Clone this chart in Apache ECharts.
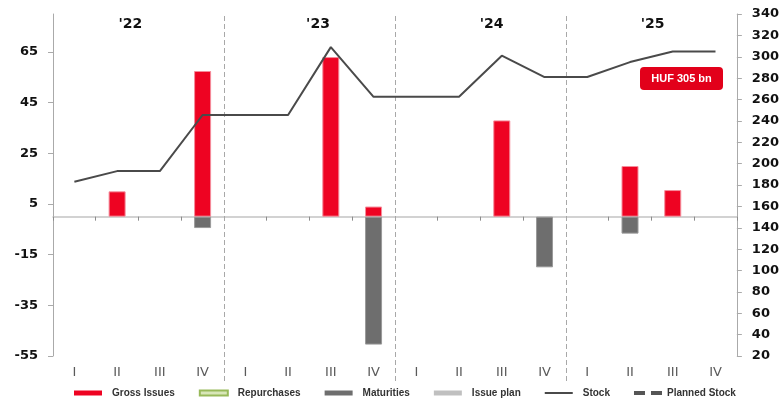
<!DOCTYPE html>
<html>
<head>
<meta charset="utf-8">
<script src="https://cdn.jsdelivr.net/npm/echarts@6/dist/echarts.min.js"></script>
<style>
html,body{margin:0;padding:0;background:#fff;}
#chart{width:782px;height:402px;}
</style>
</head>
<body>
<div id="chart"></div>
<script>
const quarters = ['I','II','III','IV','I','II','III','IV','I','II','III','IV','I','II','III','IV'];
const years = ["'22","'23","'24","'25"];
const grossIssues = ['-',10,'-',57.5, '-','-',63,4, '-','-',38,'-', '-',20,10.5,'-'];
const repurchases = ['-','-','-','-', '-','-','-','-', '-','-','-','-', '-','-','-','-'];
const maturities = ['-','-','-',-4.5, '-','-','-',-50.5, '-','-','-',-20, '-',-6.7,'-','-'];
const issuePlan = ['-','-','-','-', '-','-','-','-', '-','-','-','-', '-','-','-','-'];
const stock = [183,193,193,245.5, 245.5,245.5,309,262.5, 262.5,262.5,301,281, 281,295,305,305];
const plannedStock = [];
const leftTickValues = [-55,-35,-15,5,25,45,65];
const leftRange = {min:-55, max:80};
const rightRange = {min:20, max:340, interval:20};
const calloutText = 'HUF 305 bn';

const chart = echarts.init(document.getElementById('chart'));
const axisFont = {fontFamily:'DejaVu Sans', fontWeight:'bold', fontSize:13, color:'#111'};
const option = {
  animation:false,
  backgroundColor:'#fff',
  grid:{left:53, right:45, top:14, bottom:46, containLabel:false},
  legend:{
    data:[
      {name:'Gross Issues', icon:'rect', itemStyle:{borderWidth:0}},
      {name:'Repurchases', icon:'rect'},
      {name:'Maturities', icon:'rect', itemStyle:{borderWidth:0}},
      {name:'Issue plan', icon:'rect'},
      {name:'Stock', icon:'path://M0,0h28v2h-28z', itemStyle:{color:'#4a4a4a', borderWidth:0}},
      {name:'Planned Stock', icon:'path://M0,0h11v4h-11zM17,0h11v4h-11z', itemStyle:{color:'#555', borderWidth:0}, textStyle:{padding:[0,0,0,0]}}
    ],
    left:74, top:388, padding:0, itemWidth:28, itemHeight:5, itemGap:24,
    textStyle:{fontFamily:'Liberation Sans', fontWeight:'bold', fontSize:10, color:'#333', padding:[0,0,0,5]}
  },
  xAxis:[
    {type:'category', data:quarters, position:'bottom',
     axisLine:{onZero:true, lineStyle:{color:'#c4c4c4', width:1.5}},
     axisTick:{show:true, length:4, lineStyle:{color:'#8c8c8c'}},
     axisLabel:{show:false}, splitLine:{show:false}},
    {type:'category', data:quarters, position:'bottom',
     axisLine:{show:false, onZero:false}, axisTick:{show:false},
     axisLabel:{margin:10, fontFamily:'DejaVu Sans', fontSize:13, color:'#5a5a5a'}}
  ],
  yAxis:[
    {type:'value', min:leftRange.min, max:leftRange.max, position:'left',
     axisLine:{show:true, onZero:false, lineStyle:{color:'#aaa'}},
     axisTick:{show:true, length:5, customValues:leftTickValues, lineStyle:{color:'#aaa'}},
     axisLabel:Object.assign({margin:15, customValues:leftTickValues}, axisFont),
     splitLine:{show:false}},
    {type:'value', min:rightRange.min, max:rightRange.max, interval:rightRange.interval, position:'right',
     axisLine:{show:true, onZero:false, lineStyle:{color:'#aaa'}},
     axisTick:{show:true, length:5, lineStyle:{color:'#aaa'}},
     axisLabel:Object.assign({margin:15}, axisFont),
     splitLine:{show:false}}
  ],
  series:[
    {name:'Gross Issues', type:'bar', stack:'q', data:grossIssues, barWidth:17,
     itemStyle:{color:'#ee0322', borderColor:'#f58c9a', borderWidth:1}},
    {name:'Repurchases', type:'bar', stack:'q', data:repurchases, barWidth:17,
     itemStyle:{color:'#d8e6b8', borderColor:'#98b95a', borderWidth:1}},
    {name:'Maturities', type:'bar', stack:'q', data:maturities, barWidth:17,
     itemStyle:{color:'#6e6e6e', borderColor:'#9a9a9a', borderWidth:1}},
    {name:'Issue plan', type:'bar', stack:'q', data:issuePlan, barWidth:17,
     itemStyle:{color:'#c0c0c0'}},
    {name:'Stock', type:'line', yAxisIndex:1, data:stock, symbol:'none', z:5,
     lineStyle:{color:'#4a4a4a', width:2}, itemStyle:{color:'#4a4a4a'}},
    {name:'Planned Stock', type:'line', yAxisIndex:1, data:plannedStock, symbol:'none',
     lineStyle:{color:'#555', width:4, type:[10,4]}, itemStyle:{color:'#555'}}
  ]
};
chart.setOption(option);

// separators between years and year titles, from the axis scale
const graphics = [];
const yTop = chart.convertToPixel({yAxisIndex:0}, leftRange.max);
const c0 = chart.convertToPixel({xAxisIndex:0}, 0);
const c1 = chart.convertToPixel({xAxisIndex:0}, 1);
const band = c1 - c0;
for (let k = 1; k < years.length; k++) {
  const x = Math.round(c0 + band*(k*4 - 0.5)) + 0.5;
  graphics.push({type:'line', shape:{x1:x, y1:yTop+2, x2:x, y2:383}, style:{stroke:'#a8a8a8', lineWidth:1, lineDash:[5,3]}, z:1});
}
const yearShift = [-0.19, 0.2, 0.26, 0.03];
years.forEach((y, k) => {
  const center = c0 + band*(k*4 + 1.5 + yearShift[k]);
  graphics.push({type:'text', x:center, y:24, style:{text:y, fontFamily:'DejaVu Sans', fontWeight:'bold', fontSize:14, fill:'#111', align:'center', verticalAlign:'middle'}, z:10});
});
graphics.push({type:'group', left:640, top:67, children:[
  {type:'rect', shape:{x:0, y:0, width:83, height:23, r:4}, style:{fill:'#e2001a'}},
  {type:'text', x:41.5, y:11.5, style:{text:calloutText, fontFamily:'Liberation Sans', fontWeight:'bold', fontSize:11, fill:'#fff', align:'center', verticalAlign:'middle'}}
]});
chart.setOption({graphic:graphics});
</script>
</body>
</html>
